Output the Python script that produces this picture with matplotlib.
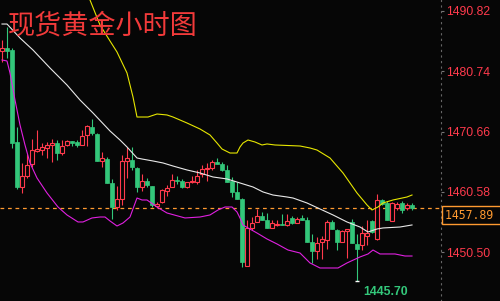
import numpy as np
import matplotlib.pyplot as plt

# ── data (hourly spot gold) ─────────────────────────────────────────────────

opens = [1484.10, 1484.60, 1484.26, 1468.91, 1461.40, 1463.24, 1465.24, 1467.41,
         1467.57, 1467.91, 1468.41, 1468.74, 1467.07, 1468.41, 1469.08, 1468.91,
         1468.41, 1470.08, 1471.41, 1470.25, 1465.74, 1466.07, 1462.07, 1458.06,
         1459.40, 1465.74, 1465.91, 1464.57, 1461.40, 1462.40, 1461.57, 1458.23,
         1458.90, 1460.73, 1461.40, 1462.57, 1462.40, 1461.40, 1462.23, 1462.23,
         1463.57, 1464.40, 1464.57, 1465.57, 1465.24, 1464.24, 1462.40, 1460.57,
         1459.40, 1448.21, 1454.56, 1455.56, 1456.56, 1455.89, 1454.56, 1455.06,
         1455.22, 1455.06, 1456.23, 1455.39, 1456.23, 1455.89, 1452.22, 1450.72,
         1452.22, 1452.55, 1455.56, 1454.22, 1452.22, 1454.06, 1455.56, 1451.89,
         1451.72, 1453.22, 1455.73, 1452.72, 1459.23, 1458.73, 1455.73, 1457.89,
         1458.73, 1457.89, 1458.40]
highs = [1485.93, 1488.10, 1484.60, 1471.41, 1465.41, 1466.91, 1469.41, 1470.91,
         1468.74, 1468.91, 1469.41, 1469.24, 1469.24, 1469.24, 1469.08, 1469.24,
         1470.91, 1471.75, 1472.75, 1470.41, 1467.24, 1466.41, 1462.74, 1461.57,
         1466.74, 1468.08, 1468.08, 1464.74, 1463.57, 1462.90, 1461.57, 1458.90,
         1461.07, 1461.73, 1463.57, 1463.24, 1462.74, 1462.23, 1463.24, 1464.24,
         1465.07, 1465.41, 1465.91, 1466.24, 1465.57, 1465.07, 1463.07, 1462.23,
         1459.56, 1455.89, 1456.39, 1457.73, 1457.23, 1457.06, 1455.89, 1455.89,
         1456.89, 1456.89, 1456.56, 1456.39, 1456.73, 1456.39, 1453.56, 1453.05,
         1453.22, 1455.89, 1455.89, 1454.39, 1454.22, 1454.39, 1456.06, 1453.56,
         1454.89, 1455.89, 1455.89, 1460.23, 1459.40, 1459.06, 1458.90, 1458.90,
         1459.06, 1458.73, 1458.73]
lows = [1482.26, 1482.93, 1467.91, 1461.07, 1460.40, 1462.90, 1464.74, 1467.24,
        1466.74, 1466.24, 1465.57, 1465.91, 1466.74, 1468.24, 1468.24, 1468.08,
        1468.41, 1468.24, 1470.08, 1465.74, 1464.74, 1462.07, 1456.06, 1457.56,
        1458.40, 1462.90, 1464.24, 1460.57, 1460.73, 1461.40, 1458.06, 1457.89,
        1458.73, 1459.90, 1461.40, 1461.90, 1461.23, 1461.23, 1462.07, 1461.90,
        1463.07, 1462.40, 1464.24, 1465.24, 1464.07, 1462.23, 1459.73, 1459.40,
        1448.05, 1448.21, 1454.22, 1455.56, 1455.89, 1454.56, 1454.56, 1454.89,
        1455.06, 1454.89, 1455.22, 1455.39, 1455.89, 1452.22, 1448.72, 1449.38,
        1449.38, 1451.05, 1454.39, 1450.88, 1452.22, 1449.55, 1452.05, 1445.70,
        1450.88, 1451.72, 1453.72, 1452.55, 1458.40, 1455.89, 1455.73, 1457.56,
        1457.06, 1457.56, 1457.56]
closes = [1484.60, 1484.10, 1468.74, 1461.40, 1463.24, 1465.07, 1467.57, 1467.74,
          1468.08, 1468.41, 1468.74, 1467.07, 1468.24, 1469.08, 1468.74, 1468.41,
          1469.91, 1471.58, 1470.41, 1465.74, 1466.24, 1462.07, 1458.06, 1459.40,
          1465.74, 1466.24, 1464.74, 1461.40, 1462.40, 1461.73, 1458.40, 1458.56,
          1460.90, 1461.23, 1462.57, 1462.40, 1461.40, 1462.23, 1462.40, 1463.24,
          1464.40, 1464.57, 1465.57, 1465.24, 1464.24, 1462.23, 1460.57, 1459.40,
          1448.88, 1454.56, 1455.39, 1456.56, 1455.89, 1454.56, 1455.39, 1455.22,
          1455.06, 1455.73, 1455.39, 1456.06, 1455.89, 1452.22, 1450.72, 1452.05,
          1452.72, 1455.56, 1454.39, 1452.22, 1454.06, 1454.39, 1452.05, 1451.05,
          1453.72, 1453.72, 1453.89, 1459.23, 1458.56, 1455.89, 1458.73, 1458.56,
          1457.56, 1458.40, 1457.89]

# bollinger bands, sampled at bar positions
upper_idx = [14.0, 17.6, 19.6, 21.6, 23.0, 25.0, 26.2, 27.0, 29.2, 31.0, 33.0,
             34.2, 37.0, 39.6, 41.6, 43.0, 44.0, 45.6, 47.0, 47.6, 48.2, 49.2,
             50.6, 52.0, 53.0, 54.6, 59.6, 61.6, 63.0, 65.6, 68.2, 71.0, 73.0,
             74.0, 75.2, 76.2, 78.2, 81.0, 82.0]
upper_val = [1497.50, 1492.61, 1488.44, 1485.77, 1483.93, 1480.43, 1476.42,
             1473.08, 1473.08, 1473.58, 1473.42, 1473.08, 1472.08, 1471.08,
             1470.08, 1468.74, 1467.74, 1467.07, 1467.07, 1468.08, 1468.74,
             1469.24, 1468.91, 1468.41, 1468.58, 1468.41, 1468.24, 1467.91,
             1467.57, 1466.24, 1463.74, 1460.40, 1458.40, 1457.56, 1458.06,
             1458.73, 1459.23, 1459.73, 1460.06]

mid_idx = [0.0, 1.0, 3.6, 6.2, 9.6, 13.0, 15.6, 18.2, 21.6, 23.6, 25.0, 27.0,
           28.0, 30.2, 32.2, 34.2, 37.0, 39.6, 42.2, 45.0, 47.6, 50.2, 52.2,
           54.2, 57.0, 58.2, 61.0, 63.6, 66.2, 69.0, 71.6, 73.2, 75.0, 76.2,
           79.6, 82.0]
mid_val = [1488.60, 1488.60, 1486.27, 1484.26, 1481.26, 1478.42, 1475.92,
           1473.75, 1470.75, 1469.24, 1468.08, 1466.24, 1466.07, 1465.74,
           1465.41, 1464.90, 1464.24, 1463.74, 1463.07, 1462.74, 1462.07,
           1461.40, 1460.57, 1460.06, 1459.73, 1459.56, 1458.73, 1457.73,
           1456.73, 1455.56, 1454.72, 1453.89, 1454.39, 1454.56, 1454.72,
           1455.06]

lower_idx = [0.0, 1.0, 1.6, 2.6, 3.6, 4.6, 5.6, 7.0, 9.0, 11.2, 13.0, 15.2,
             16.2, 18.0, 19.6, 20.6, 21.6, 23.0, 24.2, 25.6, 27.0, 28.0, 29.0,
             31.0, 33.0, 36.6, 39.6, 41.6, 43.2, 44.6, 46.0, 47.0, 47.6, 48.2,
             49.2, 51.0, 53.0, 55.0, 57.2, 59.6, 61.6, 63.6, 67.2, 69.0, 71.6,
             73.2, 74.2, 75.6, 78.6, 80.6, 82.0]
lower_val = [1482.60, 1482.43, 1480.43, 1475.92, 1471.75, 1468.41, 1465.41,
             1462.90, 1460.40, 1458.06, 1456.73, 1455.56, 1455.56, 1456.23,
             1456.39, 1456.39, 1455.73, 1454.89, 1455.39, 1456.39, 1459.56,
             1459.23, 1459.23, 1458.06, 1457.06, 1456.23, 1456.39, 1456.73,
             1457.56, 1458.06, 1458.06, 1457.23, 1456.23, 1455.06, 1454.56,
             1453.72, 1452.72, 1451.89, 1450.88, 1450.38, 1448.72, 1447.88,
             1447.88, 1448.72, 1449.72, 1450.22, 1450.88, 1450.22, 1450.22,
             1449.88, 1449.88]

yticks = [1450.50, 1460.58, 1470.66, 1480.74, 1490.82]
title = "现货黄金小时图"

# ── style ───────────────────────────────────────────────────────────────────

BG     = "#060606"
RED    = "#ff3a4c"
GREEN  = "#33c77a"
ORANGE = "#ff9a30"

plt.rcParams["font.family"] = ["Liberation Sans", "DejaVu Sans"]

opens, highs = np.array(opens), np.array(highs)
lows, closes = np.array(lows), np.array(closes)
idx = np.arange(len(opens))
up = closes >= opens

fig = plt.figure(figsize=(5, 3.01), dpi=100, facecolor=BG)
ax = fig.add_axes([0, 0, 0.882, 1], facecolor=BG)

# ── candles ─────────────────────────────────────────────────────────────────

ax.vlines(idx[up], lows[up], highs[up], color=RED, lw=0.8, zorder=2)
ax.vlines(idx[~up], lows[~up], highs[~up], color=GREEN, lw=0.8, zorder=2)
ax.bar(idx[up], closes[up] - opens[up], bottom=opens[up], width=0.62,
       facecolor=BG, edgecolor=RED, lw=0.8, zorder=3)
ax.bar(idx[~up], opens[~up] - closes[~up], bottom=closes[~up], width=0.74,
       facecolor=GREEN, edgecolor=GREEN, lw=0.5, zorder=3)

# ── bands ───────────────────────────────────────────────────────────────────

ax.plot(upper_idx, upper_val, color="#e6e600", lw=0.8, zorder=4)
ax.plot(mid_idx, mid_val, color="#e8e8e8", lw=0.8, zorder=4)
ax.plot(lower_idx, lower_val, color="#e020e0", lw=0.8, zorder=4)

# last price line + box
last = closes[-1]
ax.axhline(last, color=ORANGE, lw=0.9, ls=(0, (3, 3)), zorder=1)
ax.annotate(f"{last:.2f} ", xy=(1, last), xycoords=("axes fraction", "data"),
            xytext=(4, -7), textcoords="offset pixels", ha="left", va="center",
            fontfamily="DejaVu Sans Mono", fontsize=8.3, color=ORANGE,
            annotation_clip=False,
            bbox=dict(boxstyle="square,pad=0.25", fc=BG, ec=ORANGE, lw=1))

# lowest point marker
lo_i = int(np.argmin(lows))
ax.hlines(lows[lo_i], lo_i - 0.45, lo_i + 0.45, color="white", lw=1, zorder=5)
ax.annotate(f"{lows[lo_i]:.2f}", xy=(lo_i, lows[lo_i]), xytext=(6, -11),
            textcoords="offset pixels", ha="left", va="center",
            fontsize=8.8, fontweight="bold", color=GREEN)

# ── axes ────────────────────────────────────────────────────────────────────

ax.set_xlim(-0.4, 87.8)
ax.set_ylim(1442.37, 1492.61)
ax.set_xticks([])
ax.yaxis.tick_right()
ax.set_yticks(yticks)
ax.set_yticklabels([f"{v:.2f}" for v in yticks])
ax.tick_params(axis="y", colors="#777777", labelcolor=RED, length=2.5,
               width=0.8, pad=1, labelsize=8.8)
for side in ["top", "left", "bottom"]:
    ax.spines[side].set_visible(False)
ax.spines["right"].set_color("#666666")
ax.spines["right"].set_linestyle((0, (1, 4)))
ax.spines["right"].set_linewidth(0.8)

fig.text(0.016, 0.914, title, ha="left", va="center", fontsize=19.5,
         fontweight="medium", color="#f23a3a",
         family=["Noto Sans CJK SC", "DejaVu Sans"])

plt.savefig("out.png", dpi=100, facecolor=BG)
plt.close()
